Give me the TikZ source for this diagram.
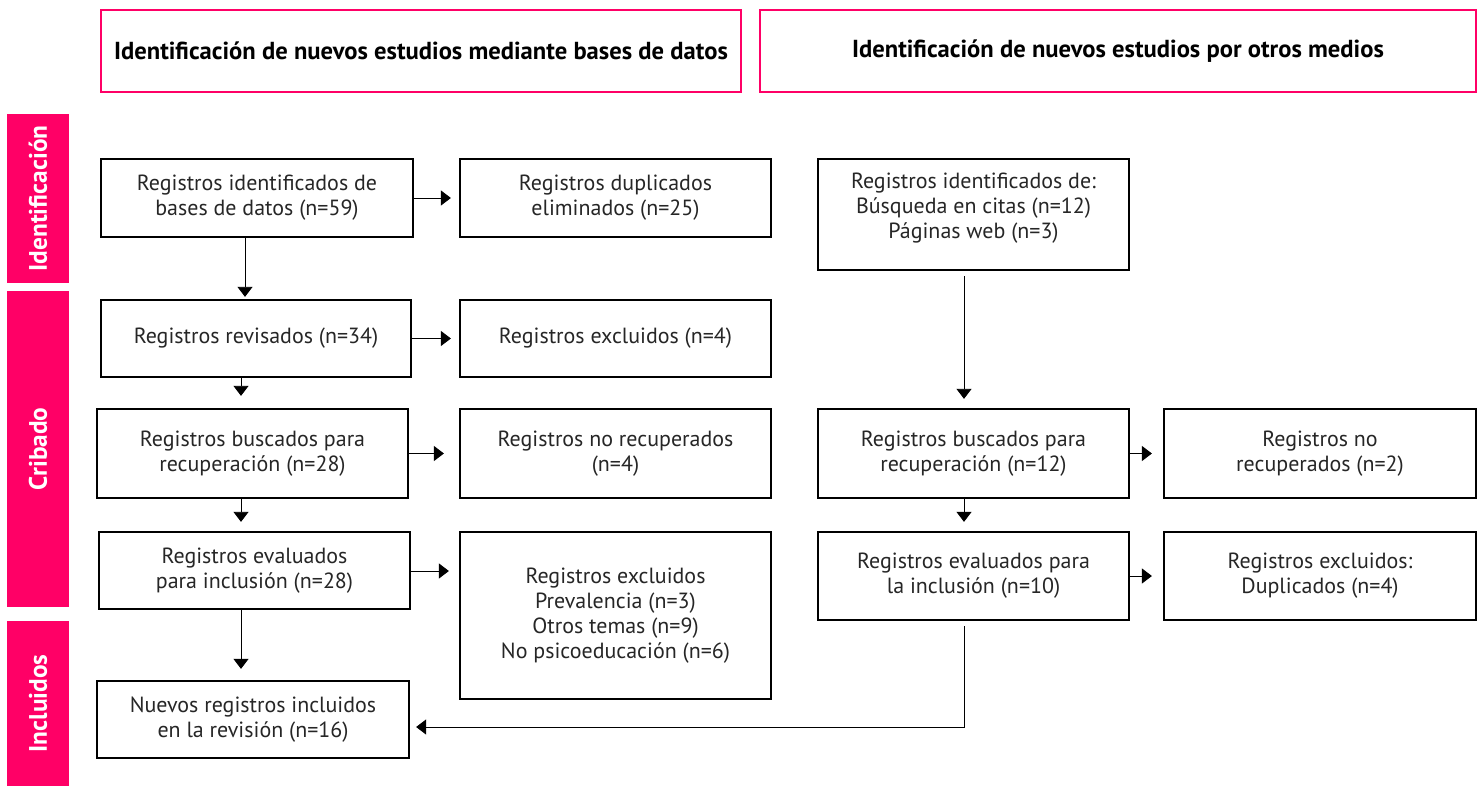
\documentclass[tikz,border=0pt]{standalone}
\usepackage{fontspec}
\setmainfont{PT Sans}
\usepackage{xcolor}
\usepackage{tikz}
\usetikzlibrary{arrows.meta}
\definecolor{rosa}{HTML}{FF0066}

\begin{document}
\begin{tikzpicture}[x=0.02cm,y=-0.02cm,
    caja/.style={draw,line width=1.3pt,align=center,inner sep=0pt,
      text=black!85,font=\fontsize{12.5}{14.3}\selectfont},
    cabecera/.style={draw=rosa,fill=white,line width=1.1pt,inner sep=0pt,
      font=\bfseries\fontsize{14}{16}\selectfont},
    fase/.style={fill=rosa,text=white,rotate=90,inner sep=0pt,
      font=\bfseries\fontsize{14.4}{16}\selectfont},
    flecha/.style={-{Triangle[length=0.2cm,width=0.3cm]},line width=0.5pt}]
  \useasboundingbox (0,0) rectangle (1479,786);

  % cabeceras
  \node[cabecera,minimum width=12.8cm,minimum height=1.64cm] (cabBD) at (421,51)
    {Identificación de nuevos estudios mediante bases de datos};
  \node[cabecera,minimum width=14.32cm,minimum height=1.64cm] (cabOM) at (1118,51)
    {Identificación de nuevos estudios por otros medios};

  % fases
  \node[fase,minimum width=3.38cm,minimum height=1.24cm] (faseI) at (38,198.5) {Identificación};
  \node[fase,minimum width=6.32cm,minimum height=1.24cm] (faseC) at (38,449) {Cribado};
  \node[fase,minimum width=3.3cm,minimum height=1.24cm] (faseN) at (38,703.5) {Incluidos};

  % bases de datos
  \node[caja,minimum width=6.24cm,minimum height=1.56cm] (A1) at (257,198)
    {Registros identificados de\\bases de datos (n=59)};
  \node[caja,minimum width=6.22cm,minimum height=1.56cm] (B1) at (615.5,198)
    {Registros duplicados\\eliminados (n=25)};
  \node[caja,minimum width=6.2cm,minimum height=1.54cm] (A2) at (256,338.5)
    {Registros revisados (n=34)};
  \node[caja,minimum width=6.22cm,minimum height=1.54cm] (B2) at (615.5,338.5)
    {Registros excluidos (n=4)};
  \node[caja,minimum width=6.22cm,minimum height=1.78cm] (A3) at (252.5,453.5)
    {Registros buscados para\\recuperación (n=28)};
  \node[caja,minimum width=6.22cm,minimum height=1.78cm] (B3) at (615.5,453.5)
    {Registros no recuperados\\(n=4)};
  \node[caja,minimum width=6.22cm,minimum height=1.54cm] (A4) at (254.5,570.5)
    {Registros evaluados\\para inclusión (n=28)};
  \node[caja,minimum width=6.22cm,minimum height=3.34cm] (B4) at (615.5,615.5)
    {Registros excluidos\\Prevalencia (n=3)\\Otros temas (n=9)\\No psicoeducación (n=6)};
  \node[caja,minimum width=6.24cm,minimum height=1.54cm] (A5) at (253,719.5)
    {Nuevos registros incluidos\\en la revisión (n=16)};

  % otros medios
  \node[caja,minimum width=6.22cm,minimum height=2.22cm] (C1) at (973.5,214.5)
    {Registros identificados de:\\Búsqueda en citas (n=12)\\Páginas web (n=3)\\[-4pt]};
  \node[caja,minimum width=6.22cm,minimum height=1.78cm] (C3) at (973.5,453.5)
    {Registros buscados para\\recuperación (n=12)};
  \node[caja,minimum width=6.24cm,minimum height=1.78cm] (D3) at (1320,453.5)
    {Registros no\\recuperados (n=2)};
  \node[caja,minimum width=6.22cm,minimum height=1.76cm] (C4) at (973.5,576)
    {Registros evaluados para\\la inclusión (n=10)};
  \node[caja,minimum width=6.24cm,minimum height=1.76cm] (D4) at (1320,576)
    {Registros excluidos:\\Duplicados (n=4)};

  \coordinate (ejeA) at (241,0);
  \coordinate (ejeC) at (964,0);

  % flechas horizontales
  \draw[flecha,shorten >=0.16cm] (A1.east) -- (B1.west);
  \draw[flecha,shorten >=0.16cm] (A2.east) -- (B2.west);
  \draw[flecha,shorten >=0.3cm] (A3.east) -- (B3.west);
  \draw[flecha,shorten >=0.2cm] (A4.east |- 0,571) -- (B4.west |- 0,571);
  \draw[flecha,shorten >=0.22cm] (C3.east) -- (D3.west);
  \draw[flecha,shorten >=0.22cm] (C4.east) -- (D4.west);

  % flechas verticales
  \draw[flecha,shorten >=0.04cm] ([xshift=0.08cm]A1.south -| ejeA) -- ([xshift=0.08cm]A2.north -| ejeA);
  \draw[flecha,shorten >=0.24cm] (A2.south -| ejeA) -- (A3.north -| ejeA);
  \draw[flecha,shorten >=0.18cm] (A3.south -| ejeA) -- (A4.north -| ejeA);
  \draw[flecha,shorten >=0.22cm] (A4.south -| ejeA) -- (A5.north -| ejeA);
  \draw[flecha,shorten <=0.1cm,shorten >=0.18cm] (C1.south -| ejeC) -- (C3.north -| ejeC);
  \draw[flecha,shorten >=0.18cm] (C3.south -| ejeC) -- (C4.north -| ejeC);
  \draw[flecha,shorten <=0.1cm,shorten >=0.12cm] (C4.south -| ejeC) |- ([yshift=-0.15cm]A5.east);
\end{tikzpicture}
\end{document}
